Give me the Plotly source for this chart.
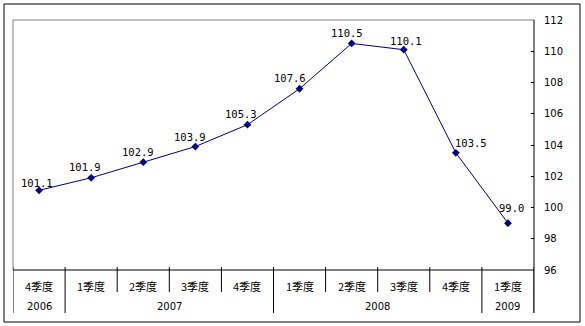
import plotly.graph_objects as go

# Quarterly index values, 2006 Q4 to 2009 Q1
quarters = ["4季度", "1季度", "2季度", "3季度", "4季度",
            "1季度", "2季度", "3季度", "4季度", "1季度"]
years = ["2006", "2007", "2008", "2009"]
quarters_per_year = [1, 4, 4, 1]
values = [101.1, 101.9, 102.9, 103.9, 105.3, 107.6, 110.5, 110.1, 103.5, 99.0]
y_ticks = [96, 98, 100, 102, 104, 106, 108, 110, 112]

# value-label nudges (pixels) so labels sit clear of the line
label_dx = [-2, -6, -5, -5, -6, -10, -5, 2, 15, 4]
label_dy = [7, 11, 10, 10, 11, 11, 10, 9, 10, 15]

W, H = 585, 326
L, R, T, B = 13, 51, 20, 56
PW, PH = W - L - R, H - T - B
NAVY = "#000080"


def px(xp):
    return (xp - L) / PW


def py(yp):
    return (H - B - yp) / PH


xs = list(range(len(values)))

fig = go.Figure()
fig.add_trace(go.Scatter(
    x=xs, y=values, mode="lines+markers",
    line=dict(color=NAVY, width=1),
    marker=dict(symbol="diamond", size=6, color=NAVY),
    hoverinfo="skip", showlegend=False,
))

label_font = dict(family="DejaVu Sans Mono", size=10.5, color="black")
for i, v in enumerate(values):
    fig.add_annotation(
        x=i, y=v, text=f"{v:.1f}", showarrow=False, font=label_font,
        yanchor="bottom", xanchor="center",
        xshift=label_dx[i], yshift=label_dy[i] - 8,
    )

cat_font = dict(family="Noto Sans CJK JP", size=11, color="black")
for i, q in enumerate(quarters):
    fig.add_annotation(x=i, y=py(286), yref="paper", text=q, showarrow=False,
                       font=cat_font, xanchor="center", yanchor="middle")

shapes = []
line_k = dict(color="black", width=1)
# quarter separators (crossing the category axis line)
n = len(values)
group_edges = [0]
for c in quarters_per_year:
    group_edges.append(group_edges[-1] + c)
for k in range(n + 1):
    bottom = py(313) if k in group_edges else py(292)
    shapes.append(dict(type="line", xref="x", yref="paper",
                       x0=k - 0.5, x1=k - 0.5, y0=py(267), y1=bottom,
                       line=line_k))

# year labels centred under their quarters
year_font = dict(family="DejaVu Sans", size=10, color="black")
for j, yr in enumerate(years):
    mid = (group_edges[j] + group_edges[j + 1] - 1) / 2
    fig.add_annotation(x=mid, y=py(306), yref="paper", text=yr, showarrow=False,
                       font=year_font, xanchor="center", yanchor="middle")

# plot-area frame: gray top/left, black category axis
shapes.append(dict(type="line", xref="paper", yref="paper",
                   x0=0, x1=1, y0=1, y1=1, line=dict(color="#808080", width=1)))
shapes.append(dict(type="line", xref="paper", yref="paper",
                   x0=0, x1=0, y0=0, y1=1, line=dict(color="#808080", width=1)))
shapes.append(dict(type="line", xref="paper", yref="paper",
                   x0=0, x1=1, y0=0, y1=0, line=line_k))
# value axis extends down through the category band
shapes.append(dict(type="line", xref="paper", yref="paper",
                   x0=1, x1=1, y0=py(313), y1=1, line=line_k))
# outer chart border
shapes.append(dict(type="rect", xref="paper", yref="paper",
                   x0=px(4), x1=px(580), y0=py(322), y1=py(4),
                   line=line_k, fillcolor="rgba(0,0,0,0)"))

fig.update_layout(
    width=W, height=H,
    margin=dict(l=L, r=R, t=T, b=B, pad=0),
    paper_bgcolor="white", plot_bgcolor="white",
    shapes=shapes,
    xaxis=dict(range=[-0.5, n - 0.5], showgrid=False, zeroline=False,
               showticklabels=False, ticks="", showline=False, fixedrange=True),
    yaxis=dict(range=[y_ticks[0], y_ticks[-1]], tickvals=y_ticks,
               side="right", showgrid=False, zeroline=False,
               ticks="inside", ticklen=3, tickcolor="black",
               showline=False, ticklabelstandoff=9,
               tickfont=dict(family="DejaVu Sans", size=10, color="black")),
)

fig.write_html("out.html")
